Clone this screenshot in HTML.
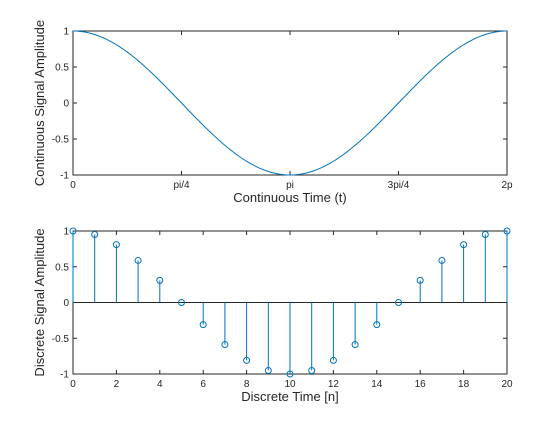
<!DOCTYPE html>
<html><head><meta charset="utf-8"><style>
body{margin:0;background:#fff}
svg{font-family:"Liberation Sans",sans-serif}
</style></head><body>
<svg width="560" height="420">
<g id="top"></g>
<g id="bot"></g>
</svg>
<script>
const contTickLabels=["0","pi/4","pi","3pi/4","2p"];
const yTickLabels=["-1","-0.5","0","0.5","1"];
const yTickVals=[-1,-0.5,0,0.5,1];
const discN=[0,1,2,3,4,5,6,7,8,9,10,11,12,13,14,15,16,17,18,19,20];
const discVals=[1,0.951,0.809,0.588,0.309,0,-0.309,-0.588,-0.809,-0.951,-1,-0.951,-0.809,-0.588,-0.309,0,0.309,0.588,0.809,0.951,1];
const discTickLabels=["0","2","4","6","8","10","12","14","16","18","20"];
const contSamples=200;
const NS="http://www.w3.org/2000/svg";
const C="#0072BD";
function mk(p,t,a){const e=document.createElementNS(NS,t);for(const k in a)e.setAttribute(k,a[k]);p.appendChild(e);return e;}
function axes(g,L,R,T,B,xTicks,xLabels,xmin,xmax,xlab,ylab){
 const sx=v=>L+(v-xmin)/(xmax-xmin)*(R-L), sy=v=>B-(v+1)/2*(B-T);
 const box=mk(g,'rect',{x:L,y:T,width:R-L,height:B-T,fill:'none',stroke:'#262626','stroke-width':1});
 
 
 xTicks.forEach((v,i)=>{const x=sx(v);
  mk(g,'line',{x1:x,x2:x,y1:B,y2:B-4,stroke:'#262626'});mk(g,'line',{x1:x,x2:x,y1:T,y2:T+4,stroke:'#262626'});
  const t=mk(g,'text',{x:x,y:B+13,'font-size':10,'text-anchor':'middle',fill:'#262626'});t.textContent=xLabels[i];
  
  });
 yTickVals.forEach((v,i)=>{const y=sy(v);
  mk(g,'line',{x1:L,x2:L+4,y1:y,y2:y,stroke:'#262626'});mk(g,'line',{x1:R,x2:R-4,y1:y,y2:y,stroke:'#262626'});
  const t=mk(g,'text',{x:L-4,y:y+3.5,'font-size':10,'text-anchor':'end',fill:'#262626'});t.textContent=yTickLabels[i];
  
  });
 const xt=mk(g,'text',{x:(L+R)/2,y:B+27,'font-size':13,'text-anchor':'middle',fill:'#262626'});xt.textContent=xlab;
 
 
 const yt=mk(g,'text',{x:0,y:0,'font-size':13,'text-anchor':'middle',fill:'#262626',transform:`translate(44,${(T+B)/2}) rotate(-90)`});yt.textContent=ylab;
 
 
 return [sx,sy];
}
const gt=document.getElementById('top');
let [sx,sy]=axes(gt,73,507,31,175,[0,0.25,0.5,0.75,1],contTickLabels,0,1,'Continuous Time (t)','Continuous Signal Amplitude');
let d='';for(let i=0;i<=contSamples;i++){const u=i/contSamples;d+=(i?'L':'M')+sx(u).toFixed(2)+','+sy(Math.cos(2*Math.PI*u)).toFixed(2);}
const cl=mk(gt,'path',{d:d,fill:'none',stroke:C,'stroke-width':1});


const gb=document.getElementById('bot');
[sx,sy]=axes(gb,73,507,231,374,discTickLabels.map(Number),discTickLabels,0,20,'Discrete Time [n]','Discrete Signal Amplitude');
mk(gb,'line',{x1:73,x2:507,y1:sy(0),y2:sy(0),stroke:'#262626'});
discN.forEach((n,i)=>{const x=sx(n),y=sy(discVals[i]);
 const s=mk(gb,'line',{x1:x,x2:x,y1:sy(0),y2:y,stroke:C,'stroke-width':1});
 
 
 const c=mk(gb,'circle',{cx:x,cy:y,r:3,fill:'none',stroke:C,'stroke-width':1});
 
 });
</script>
</body></html>
